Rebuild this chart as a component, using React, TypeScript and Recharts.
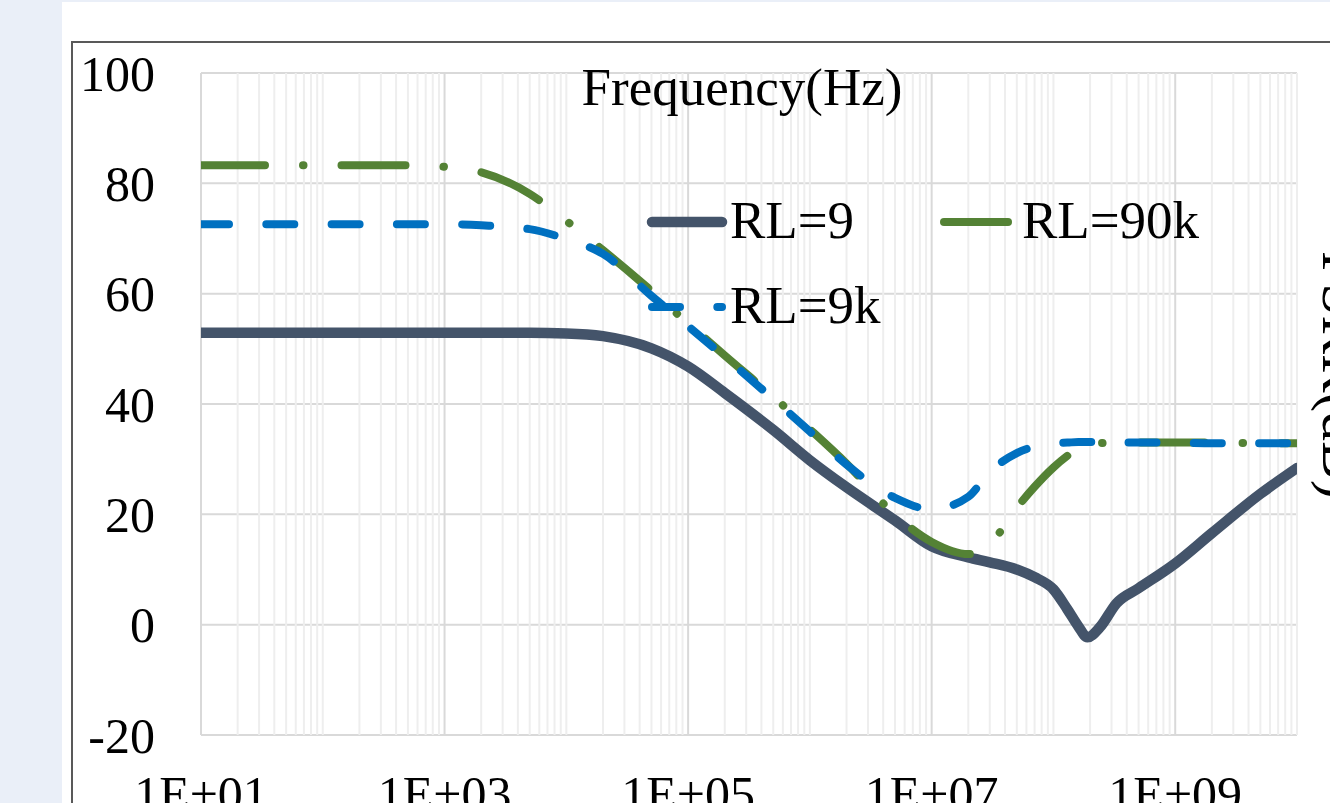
import { LineChart, Line, XAxis, YAxis, CartesianGrid, ReferenceLine } from "recharts"

const FONT = '"Liberation Serif", "Times New Roman", serif'

// frequencies (Hz) shared by the three curves
const freqHz = [
  10, 20, 50, 100, 200, 500, 1e3, 2e3, 5e3, 1e4, 2e4, 5e4, 1e5, 2e5, 5e5, 1e6, 2e6, 5e6,
  1e7, 2e7, 3e7, 5e7, 7e7, 1e8, 1.3e8, 1.6e8, 1.9e8, 2.4e8, 3.3e8, 5e8, 1e9, 2e9, 5e9, 1e10,
]

// dB values
const rl9 = [
  52.9, 52.9, 52.9, 52.9, 52.9, 52.9, 52.9, 52.9, 52.9, 52.8, 52.3, 50.1, 46.8, 42.0, 35.3, 29.8, 24.9, 18.9,
  14.2, 12.2, 11.3, 10.0, 8.6, 6.4, 2.8, -0.3, -2.3, -0.5, 3.9, 6.6, 11.1, 16.6, 23.7, 28.4,
]
const rl9k = [
  72.6, 72.6, 72.6, 72.6, 72.6, 72.6, 72.6, 72.4, 71.7, 69.9, 67.2, 59.6, 54.1, 48.5, 40.9, 35.0, 29.0, 23.0,
  20.9, 23.2, 27.7, 31.1, 32.3, 32.9, 33.0, 33.1, 33.1, 33.1, 33.0, 33.0, 33.0, 32.9, 32.9, 32.9,
]
const rl90k = [
  83.3, 83.3, 83.3, 83.3, 83.3, 83.3, 83.0, 82.0, 78.1, 73.2, 67.9, 60.5, 54.6, 48.8, 41.3, 35.4, 29.2, 19.9,
  15.0, 12.8, 14.6, 21.2, 25.0, 28.5, 30.6, 32.0, 32.6, 32.9, 33.0, 33.0, 33.0, 33.0, 32.9, 32.9,
]

const xTicks = [1e1, 1e3, 1e5, 1e7, 1e9]
const xTickLabels = ["1E+01", "1E+03", "1E+05", "1E+07", "1E+09"]
const yTicks = [-20, 0, 20, 40, 60, 80, 100]

// minor log gridlines (2..10 of every decade, minus the labelled ones)
const minorTicks: number[] = []
for (let e = 1; e < 10; e++) {
  for (let m = 2; m <= 10; m++) {
    const v = m * 10 ** e
    if (!xTicks.includes(v)) minorTicks.push(v)
  }
}

const data = freqHz.map((f, i) => ({ f, rl9: rl9[i], rl9k: rl9k[i], rl90k: rl90k[i] }))

// draw order: dark first, blue on top
const series = [
  { key: "rl9", name: "RL=9", color: "#44546A", width: 10.5, dash: undefined as string | undefined },
  { key: "rl90k", name: "RL=90k", color: "#548235", width: 8, dash: "64 38 0.5 38" },
  { key: "rl9k", name: "RL=9k", color: "#0070C0", width: 8, dash: "28 37.3" },
]

// legend slots (sample line start, centre y)
const legendSlots = [
  { x: 652, y: 222 },
  { x: 944, y: 222 },
  { x: 652, y: 307 },
]

export default function App() {
  return (
    <div
      style={{
        position: "absolute",
        left: 0,
        top: 0,
        width: 1330,
        height: 803,
        overflow: "hidden",
        background: "#eaeff8",
        fontFamily: FONT,
      }}
    >
      <div style={{ position: "absolute", left: 62, top: 2, right: 0, bottom: 0, background: "#fff" }} />
      <div
        style={{
          position: "absolute",
          left: 71,
          top: 41,
          width: 1400,
          height: 900,
          border: "2px solid #595959",
          boxSizing: "border-box",
        }}
      />

      <div style={{ position: "absolute", left: 0, top: 0 }}>
        <LineChart width={1330} height={803} data={data} margin={{ top: 73, right: 33, bottom: 0, left: 0 }}>
          {minorTicks.map((v) => (
            <ReferenceLine key={v} x={v} stroke="#eeeeee" strokeWidth={2} ifOverflow="visible" />
          ))}
          <CartesianGrid stroke="#d9d9d9" strokeWidth={2} />
          <XAxis
            dataKey="f"
            type="number"
            scale="log"
            domain={[10, 1e10]}
            ticks={xTicks}
            interval={0}
            tickFormatter={(v) => xTickLabels[xTicks.indexOf(v)] ?? ""}
            tick={{ fill: "#000", fontSize: 50, fontFamily: FONT }}
            tickSize={0}
            tickMargin={40}
            tickLine={false}
            axisLine={false}
            height={68}
            allowDataOverflow
          />
          <YAxis
            type="number"
            domain={[-20, 100]}
            ticks={yTicks}
            interval={0}
            tick={{ fill: "#000", fontSize: 50, fontFamily: FONT }}
            tickSize={0}
            tickMargin={46}
            tickLine={false}
            axisLine={false}
            width={201}
            allowDataOverflow
          />
          {series.map((s) => (
            <Line
              key={s.key}
              dataKey={s.key}
              name={s.name}
              type="monotone"
              stroke={s.color}
              strokeWidth={s.width}
              strokeDasharray={s.dash}
              strokeLinecap="round"
              strokeLinejoin="round"
              dot={false}
              activeDot={false}
              isAnimationActive={false}
            />
          ))}
        </LineChart>
      </div>

      <svg
        width={1330}
        height={803}
        style={{ position: "absolute", left: 0, top: 0, pointerEvents: "none" }}
        fontFamily={FONT}
      >
        <text x={742} y={105} fontSize={53} textAnchor="middle" fill="#000">
          Frequency(Hz)
        </text>
        <text transform="translate(1323, 375) rotate(90)" fontSize={58} textAnchor="middle" fill="#000">
          PSRR(dB)
        </text>
        {series.map((s, i) => {
          const slot = legendSlots[i]
          return (
            <g key={s.key}>
              <line
                x1={slot.x}
                x2={slot.x + 70}
                y1={slot.y}
                y2={slot.y}
                stroke={s.color}
                strokeWidth={s.width}
                strokeDasharray={s.dash}
                strokeLinecap="round"
              />
              <text x={slot.x + 78} y={slot.y + 16} fontSize={53} fill="#000">
                {s.name}
              </text>
            </g>
          )
        })}
      </svg>
    </div>
  )
}
